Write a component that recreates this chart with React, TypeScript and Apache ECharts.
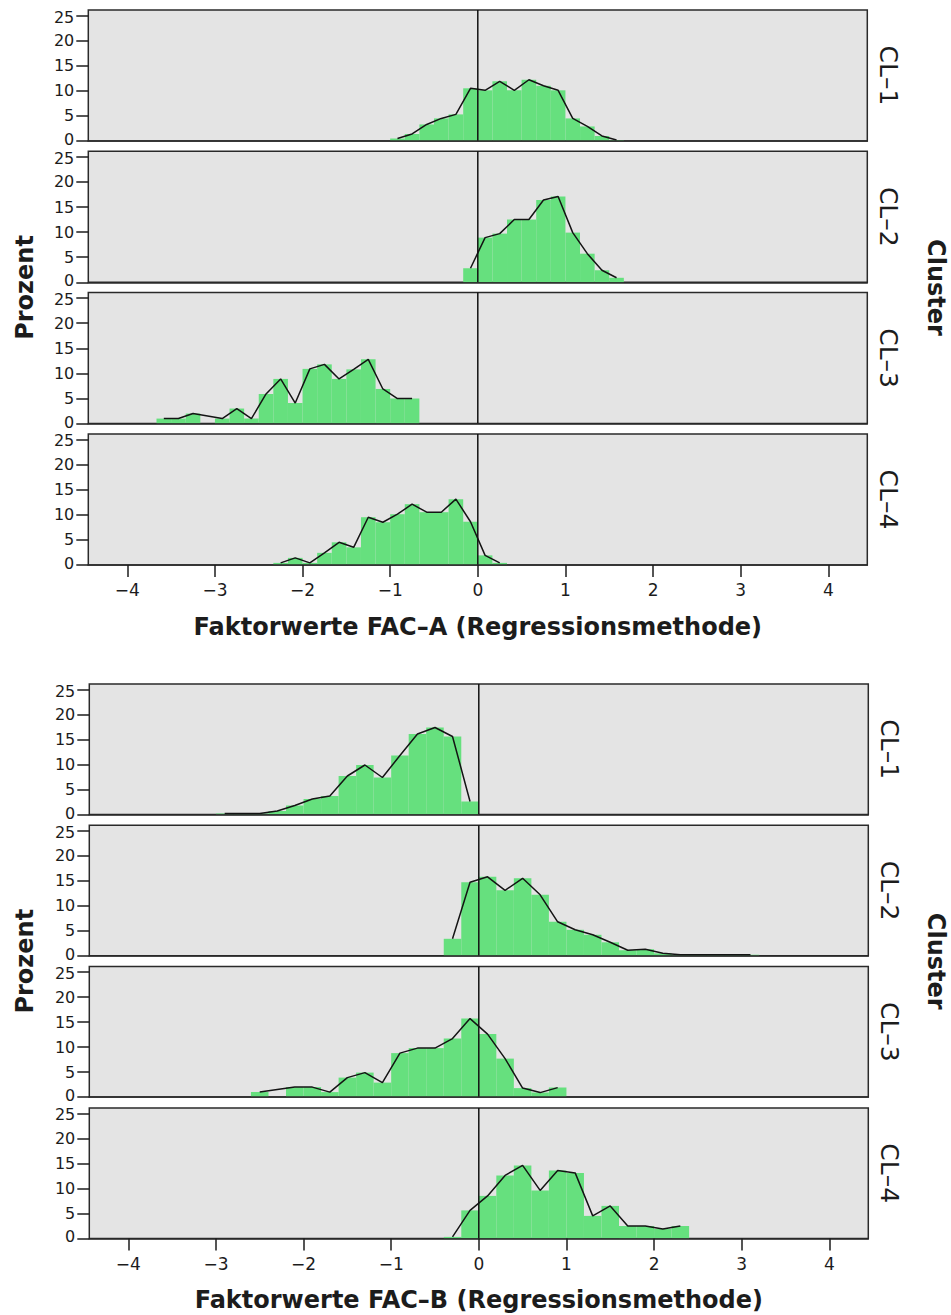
import React, { useEffect, useRef } from "react";
import * as echarts from "echarts";

// Bin widths of the two histograms (factor score units).
const FAC_A_BIN_WIDTH = 1 / 6;
const FAC_B_BIN_WIDTH = 0.2;

const CLUSTER_NAMES = ["CL–1", "CL–2", "CL–3", "CL–4"];
const PERCENT_TICKS = [0, 5, 10, 15, 20, 25];
// Label anchors nudged a hair inward so stacked panels' "0" and "25" don't collide
const PERCENT_LABEL_AT = [0.3, 5, 10, 15, 20, 24.7];
const FACTOR_TICKS = [-4, -3, -2, -1, 0, 1, 2, 3, 4];

const TITLE_A = "Faktorwerte FAC–A (Regressionsmethode)";
const TITLE_B = "Faktorwerte FAC–B (Regressionsmethode)";
const Y_TITLE = "Prozent";
const FACET_TITLE = "Cluster";

// FAC-A: index of the first bin (in bin widths from 0) for each cluster, and percentages per bin.
const FAC_A_FIRST_BIN = [-6, -1, -22, -14];
const FAC_A_CL1 = [0.5, 1.4, 3.3, 4.5, 5.3, 10.5, 10.1, 11.9, 10.1, 12.2, 11.0, 10.1, 4.5, 2.9, 1.0, 0.2];
const FAC_A_CL2 = [2.8, 8.9, 9.7, 12.5, 12.5, 16.4, 17.1, 9.9, 5.7, 2.4, 0.9];
const FAC_A_CL3 = [1, 1, 2, 0, 1, 3, 1, 5.9, 8.9, 4.1, 10.9, 11.8, 8.9, 10.8, 12.8, 6.9, 5, 5];
const FAC_A_CL4 = [0.4, 1.4, 0.4, 2.4, 4.5, 3.5, 9.5, 8.5, 10.1, 12.1, 10.5, 10.5, 13.1, 8.6, 1.9, 0.4];

// FAC-B: same layout.
const FAC_B_FIRST_BIN = [-15, -2, -13, -2];
const FAC_B_CL1 = [0.2, 0.2, 0.2, 0.7, 1.8, 3.1, 3.7, 7.7, 9.9, 7.4, 11.8, 16.1, 17.4, 15.6, 2.6];
const FAC_B_CL2 = [3.4, 14.7, 15.8, 13.1, 15.5, 12.2, 6.8, 5.2, 4.2, 2.7, 1.1, 1.3, 0.5, 0.2, 0.2, 0.2, 0.2, 0.2];
const FAC_B_CL3 = [1, 0, 2, 2, 1, 3.9, 4.9, 2.9, 8.8, 9.8, 9.8, 11.7, 15.7, 12.6, 7.7, 1.8, 0.9, 1.9];
const FAC_B_CL4 = [0.3, 5.6, 8.5, 12.6, 14.6, 9.6, 13.6, 13.1, 4.5, 6.5, 2.5, 2.5, 1.9, 2.5];

const BAR_COLOR = "#66e07e";
const PANEL_BG = "#e4e4e4";
const INK = "#1c1c1c";
const FONT = "DejaVu Sans";

const X_MIN = -4.445;
const X_MAX = 4.445;
const Y_MAX = 26.1;

const PANEL_WIDTH = 779;
const PANEL_PITCH = 141.3;

type Block = {
  left: number;
  top: number;
  panelHeight: number;
  binWidth: number;
  firstBins: number[];
  values: number[][];
  title: string;
};

const BLOCKS: Block[] = [
  {
    left: 88.3,
    top: 10,
    panelHeight: 131,
    binWidth: FAC_A_BIN_WIDTH,
    firstBins: FAC_A_FIRST_BIN,
    values: [FAC_A_CL1, FAC_A_CL2, FAC_A_CL3, FAC_A_CL4],
    title: TITLE_A,
  },
  {
    left: 89.3,
    top: 684,
    panelHeight: 130.5,
    binWidth: FAC_B_BIN_WIDTH,
    firstBins: FAC_B_FIRST_BIN,
    values: [FAC_B_CL1, FAC_B_CL2, FAC_B_CL3, FAC_B_CL4],
    title: TITLE_B,
  },
];

function minusLabel(v: number) {
  return v < 0 ? "\u2212" + Math.abs(v) : String(v);
}

function centeredText(text: string, font: string, x: number, y: number, rotation = 0) {
  return {
    type: "text",
    x,
    y,
    rotation,
    style: {
      text,
      font,
      fill: INK,
      textAlign: "center",
      textVerticalAlign: "middle",
      align: "center",
      verticalAlign: "middle",
    },
  };
}

function buildOption() {
  const grid: any[] = [];
  const xAxis: any[] = [];
  const yAxis: any[] = [];
  const series: any[] = [];
  const graphic: any[] = [];

  BLOCKS.forEach((block, b) => {
    block.values.forEach((vals, c) => {
      const idx = b * 4 + c;
      const top = block.top + c * PANEL_PITCH;
      const isBottom = c === 3;

      grid.push({
        left: block.left,
        top,
        width: PANEL_WIDTH,
        height: block.panelHeight,
        show: true,
        backgroundColor: PANEL_BG,
        borderColor: "#2a2a2a",
        borderWidth: 1.5,
        containLabel: false,
        outerBoundsMode: "none",
      });

      xAxis.push({
        gridIndex: idx,
        type: "value",
        position: "bottom",
        min: X_MIN,
        max: X_MAX,
        z: 5,
        splitLine: { show: false },
        axisLine: { show: true, onZero: false, lineStyle: { color: "#2a2a2a", width: 1.5 } },
        axisTick: {
          show: isBottom,
          customValues: FACTOR_TICKS,
          length: 12,
          lineStyle: { color: INK, width: 1.5 },
        },
        axisLabel: {
          show: isBottom,
          customValues: FACTOR_TICKS,
          formatter: (v: number) => minusLabel(v),
          margin: 17,
          fontSize: 17,
          fontFamily: FONT,
          color: INK,
        },
      });

      yAxis.push({
        gridIndex: idx,
        type: "value",
        position: "left",
        min: 0,
        max: Y_MAX,
        splitLine: { show: false },
        axisLine: { show: false, onZero: false },
        axisTick: {
          show: true,
          customValues: PERCENT_TICKS,
          length: 12,
          lineStyle: { color: INK, width: 1.5 },
        },
        axisLabel: {
          customValues: PERCENT_LABEL_AT,
          formatter: (v: number) => String(Math.round(v / 5) * 5),
          margin: 14,
          fontSize: 16,
          fontFamily: FONT,
          color: INK,
        },
      });

      const first = block.firstBins[c];
      const bins = vals.map((v, i) => {
        const x0 = (first + i) * block.binWidth;
        const x1 = (first + i + 1) * block.binWidth;
        return { x0, x1, mid: (x0 + x1) / 2, v };
      });

      // Histogram bars
      series.push({
        type: "custom",
        xAxisIndex: idx,
        yAxisIndex: idx,
        silent: true,
        z: 2,
        encode: { x: [0, 1], y: 2 },
        data: bins.map((d) => [d.x0, d.x1, d.v]),
        renderItem: (_params: any, api: any) => {
          const p0 = api.coord([api.value(0), api.value(2)]);
          const p1 = api.coord([api.value(1), 0]);
          return {
            type: "rect",
            shape: { x: p0[0], y: p0[1], width: p1[0] - p0[0], height: p1[1] - p0[1] },
            style: { fill: BAR_COLOR },
          };
        },
      });

      // Frequency polygon through the bin midpoints (empty bins are bridged)
      series.push({
        type: "line",
        xAxisIndex: idx,
        yAxisIndex: idx,
        silent: true,
        z: 3,
        showSymbol: false,
        symbol: "none",
        connectNulls: true,
        lineStyle: { color: "#141414", width: 1.5 },
        data: bins.map((d) => [d.mid, d.v > 0 ? d.v : null]),
      });

      // Vertical reference line at a factor score of 0
      series.push({
        type: "line",
        xAxisIndex: idx,
        yAxisIndex: idx,
        silent: true,
        z: 4,
        showSymbol: false,
        symbol: "none",
        lineStyle: { color: "#111111", width: 1.5 },
        data: [
          [0, 0],
          [0, Y_MAX],
        ],
      });

      graphic.push(
        centeredText(
          CLUSTER_NAMES[c],
          `25px "${FONT}"`,
          block.left + PANEL_WIDTH + 21,
          top + block.panelHeight / 2,
          -Math.PI / 2
        )
      );
    });

    const blockTop = block.top;
    const blockBottom = block.top + 3 * PANEL_PITCH + block.panelHeight;
    const blockMid = (blockTop + blockBottom) / 2;

    graphic.push(centeredText(Y_TITLE, `bold 24px "${FONT}"`, 24.5, blockMid, Math.PI / 2));
    graphic.push(centeredText(FACET_TITLE, `bold 24px "${FONT}"`, 936, blockMid, -Math.PI / 2));
    graphic.push(
      centeredText(block.title, `bold 24px "${FONT}"`, block.left + PANEL_WIDTH / 2, blockBottom + 62)
    );
  });

  return {
    animation: false,
    backgroundColor: "#ffffff",
    textStyle: { fontFamily: FONT },
    grid,
    xAxis,
    yAxis,
    series,
    graphic,
  };
}

export default function App() {
  const ref = useRef<HTMLDivElement>(null);

  useEffect(() => {
    if (!ref.current) return;
    const chart = echarts.init(ref.current, undefined, { renderer: "svg" });
    chart.setOption(buildOption() as any);
    return () => {
      chart.dispose();
    };
  }, []);

  return (
    <div
      ref={ref}
      style={{ position: "absolute", left: 0, top: 0, width: 951, height: 1315, background: "#fff" }}
    />
  );
}
